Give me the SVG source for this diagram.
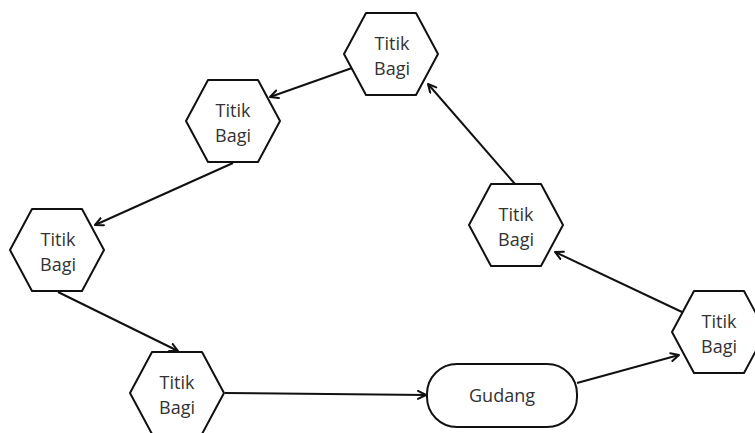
<svg xmlns="http://www.w3.org/2000/svg" width="755" height="433" viewBox="0 0 755 433">
<style>
.node{fill:#ffffff;stroke:#111111;stroke-width:2;stroke-linejoin:round}
.lbl{font-family:"Open Sans","Noto Sans",sans-serif;font-size:18px;fill:#333333;text-anchor:middle}
.edge{fill:none;stroke:#111111;stroke-width:2;marker-end:url(#arr)}
</style>
<defs>
<marker id="arr" markerUnits="userSpaceOnUse" markerWidth="12" markerHeight="12" refX="9" refY="5" orient="auto">
<path d="M1,1 L9,5 L1,9" fill="none" stroke="#111111" stroke-width="2" stroke-linecap="round" stroke-linejoin="round"/>
</marker>
<polygon id="hex" points="-25,-41 25,-41 47,0 25,41 -25,41 -47,0"/>
</defs>
<rect width="755" height="433" fill="#ffffff"/>
<g id="connectors">
<line class="edge" x1="352" y1="68" x2="270" y2="97"/>
<line class="edge" x1="233" y1="163" x2="95" y2="225"/>
<line class="edge" x1="58" y1="292" x2="178" y2="351"/>
<line class="edge" x1="225" y1="393" x2="426" y2="395"/>
<line class="edge" x1="577" y1="383" x2="679" y2="355"/>
<line class="edge" x1="682" y1="312" x2="555" y2="252"/>
<line class="edge" x1="515" y1="184" x2="428" y2="84"/>
</g>
<g id="hex1"><use href="#hex" class="node" transform="translate(391,54)"/><text class="lbl" x="392" y="50">Titik</text><text class="lbl" x="392" y="75">Bagi</text></g>
<g id="hex2"><use href="#hex" class="node" transform="translate(233,121)"/><text class="lbl" x="233" y="117">Titik</text><text class="lbl" x="233" y="142">Bagi</text></g>
<g id="hex3"><use href="#hex" class="node" transform="translate(57,250)"/><text class="lbl" x="58" y="246">Titik</text><text class="lbl" x="58" y="271">Bagi</text></g>
<g id="hex4"><use href="#hex" class="node" transform="translate(177,393)"/><text class="lbl" x="177" y="389">Titik</text><text class="lbl" x="177" y="414">Bagi</text></g>
<g id="hex5"><use href="#hex" class="node" transform="translate(719,332)"/><text class="lbl" x="719" y="328">Titik</text><text class="lbl" x="719" y="353">Bagi</text></g>
<g id="hex6"><use href="#hex" class="node" transform="translate(516,225)"/><text class="lbl" x="516" y="221">Titik</text><text class="lbl" x="516" y="246">Bagi</text></g>
<g id="gudang"><rect class="node" x="427" y="364" width="150" height="63" rx="30" ry="30"/><text class="lbl" x="502" y="402">Gudang</text></g>
</svg>
